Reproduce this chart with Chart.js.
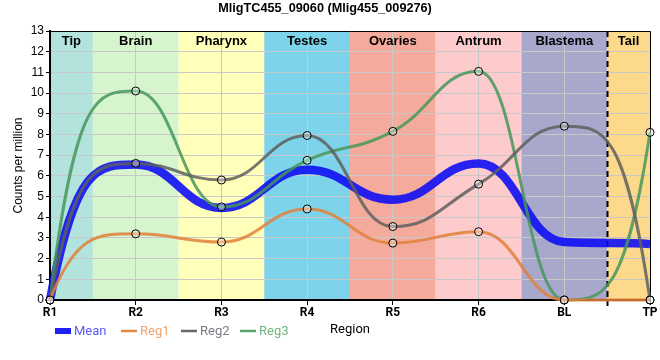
<!DOCTYPE html>
<html>
<head>
<meta charset="utf-8">
<script src="https://cdn.jsdelivr.net/npm/chart.js@4.4.1/dist/chart.umd.min.js"></script>
<style>
html,body{margin:0;padding:0;background:#fff;}
#wrap{width:660px;height:360px;position:relative;}
</style>
</head>
<body>
<div id="wrap"><canvas id="c" width="660" height="360"></canvas></div>
<script>
const categories = ['R1','R2','R3','R4','R5','R6','BL','TP'];
const meanValues = [0, 6.55, 4.45, 6.3, 4.85, 6.6, 2.8, 2.7];
const reg1Values = [0, 3.2, 2.8, 4.4, 2.75, 3.3, 0, 0];
const reg2Values = [0, 6.6, 5.8, 7.95, 3.55, 5.6, 8.4, 0];
const reg3Values = [0, 10.1, 4.5, 6.75, 8.15, 11.05, 0, 8.1];
const regionNames = ['Tip','Brain','Pharynx','Testes','Ovaries','Antrum','Blastema','Tail'];
const regionFrom = [0, 0.5, 1.5, 2.5, 3.5, 4.5, 5.5, 6.5];
const regionTo   = [0.5, 1.5, 2.5, 3.5, 4.5, 5.5, 6.5, 7];
const regionColors = ['#b3e3dd','#d6f5cf','#ffffb9','#7dd4ea','#f4ab9c','#fdcbcb','#a8a8cd','#fdd98b'];
const dividerAt = 6.5;
const yTicksMax = 13;

// Spline smoothing: control points derived from the library-computed point positions
const splinePlugin = {
  id: 'spline',
  beforeDatasetDraw(chart, args) {
    const meta = args.meta;
    const line = meta.dataset;
    const pts = meta.data;
    const sm = 1.22, d = sm + 1, e = 0.3;
    const n = pts.length;
    for (let i = 0; i < n; i++) {
      const p = pts[i], prev = pts[i - 1], next = pts[i + 1];
      let lx = p.x, ly = p.y, rx = p.x, ry = p.y;
      if (prev && next) {
        lx = (sm * p.x + prev.x) / d; ly = (sm * p.y + prev.y) / d;
        rx = (sm * p.x + next.x) / d; ry = (sm * p.y + next.y) / d;
        let corr = 0;
        if (rx !== lx) corr = ((ry - ly) * (rx - p.x)) / (rx - lx) + p.y - ry;
        ly += corr; ry += corr;
        if (ly > prev.y && ly > p.y) { ly = Math.max(prev.y, p.y); ry = 2 * p.y - ly; }
        else if (ly < prev.y && ly < p.y) { ly = Math.min(prev.y, p.y); ry = 2 * p.y - ly; }
        if (ry > next.y && ry > p.y) { ry = Math.max(next.y, p.y); ly = 2 * p.y - ry; }
        else if (ry < next.y && ry < p.y) { ry = Math.min(next.y, p.y); ly = 2 * p.y - ry; }
      } else if (next) {
        rx = p.x + e * (next.x - p.x); ry = next.y;
      } else if (prev) {
        lx = p.x - e * (p.x - prev.x); ly = prev.y;
      }
      p.cp1x = lx; p.cp1y = ly; p.cp2x = rx; p.cp2y = ry;
    }
    if (line) { line._pointsUpdated = true; delete line._path; }
  }
};

const bandsPlugin = {
  id: 'bands',
  beforeDraw(chart) {
    const {ctx, chartArea: a, scales: {x}} = chart;
    ctx.save();
    for (let i = 0; i < regionNames.length; i++) {
      const x0 = x.getPixelForValue(regionFrom[i]);
      const x1 = x.getPixelForValue(regionTo[i]);
      ctx.fillStyle = regionColors[i];
      ctx.fillRect(x0, a.top, x1 - x0, a.bottom - a.top);
    }
    ctx.restore();
  },
  beforeDatasetsDraw(chart) {
    const {ctx, chartArea: a, scales: {x}} = chart;
    ctx.save();
    ctx.font = 'bold 13px "Liberation Sans", Arial, sans-serif';
    ctx.fillStyle = '#000';
    ctx.textAlign = 'center';
    ctx.textBaseline = 'middle';
    for (let i = 0; i < regionNames.length; i++) {
      const x0 = x.getPixelForValue(regionFrom[i]);
      const x1 = x.getPixelForValue(regionTo[i]);
      ctx.fillText(regionNames[i], (x0 + x1) / 2, a.top + 10);
    }
    ctx.strokeStyle = '#000';
    ctx.lineWidth = 1;
    ctx.beginPath();
    ctx.moveTo(a.left, a.top + 0.5);
    ctx.lineTo(a.right + 0.5, a.top + 0.5);
    ctx.lineTo(a.right + 0.5, a.bottom);
    ctx.stroke();
    const xd = Math.round(x.getPixelForValue(dividerAt)) + 0.5;
    ctx.lineWidth = 2;
    ctx.setLineDash([6, 4]);
    ctx.beginPath();
    ctx.moveTo(xd, a.top);
    ctx.lineTo(xd, a.bottom + 6);
    ctx.stroke();
    ctx.restore();
  },
  afterDraw(chart) {
    const {ctx} = chart;
    const items = [
      {label: 'Mean', color: '#2020f5', text: '#5a5aff', box: true, x: 55},
      {label: 'Reg1', color: '#e08a48', text: '#eda36f', box: false, x: 121},
      {label: 'Reg2', color: '#666666', text: '#7b7b86', box: false, x: 181},
      {label: 'Reg3', color: '#5aa46a', text: '#70b47e', box: false, x: 240}
    ];
    const y = 331;
    ctx.save();
    ctx.font = '13px Roboto, sans-serif';
    ctx.textBaseline = 'middle';
    ctx.textAlign = 'left';
    items.forEach(it => {
      if (it.box) {
        ctx.fillStyle = it.color;
        ctx.fillRect(it.x, y - 3, 16, 6);
      } else {
        ctx.strokeStyle = it.color;
        ctx.lineWidth = 2.5;
        ctx.beginPath();
        ctx.moveTo(it.x, y);
        ctx.lineTo(it.x + 16, y);
        ctx.stroke();
      }
      ctx.fillStyle = it.text;
      ctx.fillText(it.label, it.x + 19, y + 0.5);
    });
    ctx.restore();
  }
};

const pointStyleCommon = {
  pointRadius: 4,
  pointHoverRadius: 4,
  pointBorderColor: '#000',
  pointBorderWidth: 1,
  pointBackgroundColor: 'rgba(255,255,255,0.35)',
  tension: 0.4,
  borderWidth: 3,
  clip: false,
  order: 0
};

new Chart(document.getElementById('c'), {
  type: 'line',
  data: {
    labels: categories,
    datasets: [
      {label: 'Mean', data: meanValues, borderColor: 'rgba(10,10,245,0.88)', borderWidth: 8.5,
       pointRadius: 0, tension: 0.4, clip: false, order: 10},
      Object.assign({label: 'Reg1', data: reg1Values, borderColor: 'rgba(224,128,58,0.85)'}, pointStyleCommon),
      Object.assign({label: 'Reg2', data: reg2Values, borderColor: 'rgba(95,95,95,0.85)'}, pointStyleCommon),
      Object.assign({label: 'Reg3', data: reg3Values, borderColor: 'rgba(70,150,90,0.85)'}, pointStyleCommon)
    ]
  },
  options: {
    responsive: false,
    animation: false,
    layout: {padding: {left: 0, right: 10, top: 0, bottom: 0}},
    plugins: {
      legend: {display: false},
      tooltip: {enabled: false},
      title: {
        display: true,
        text: 'MligTC455_09060 (Mlig455_009276)',
        color: '#000',
        font: {family: '"Liberation Sans", Arial, sans-serif', size: 12.7, weight: 'bold', lineHeight: 1.15},
        padding: {top: 1, bottom: 15.4}
      }
    },
    scales: {
      x: {
        type: 'category',
        offset: false,
        border: {display: true, color: '#000', width: 2},
        grid: {color: '#c8c8c8', lineWidth: 1, tickColor: '#000', tickLength: 5, drawTicks: true},
        ticks: {color: '#000', font: {family: 'Roboto, sans-serif', size: 12, weight: 'bold'}, padding: 1, maxRotation: 0, autoSkip: false},
        title: {display: true, text: 'Region', color: '#000', font: {family: 'Roboto, sans-serif', size: 13}, padding: {top: 0, bottom: 22}},
        afterFit(s) { s.height = 60; }
      },
      y: {
        min: 0, max: yTicksMax,
        border: {display: true, color: '#000', width: 2},
        grid: {color: '#c8c8c8', lineWidth: 1, tickColor: '#000', tickLength: 4},
        ticks: {stepSize: 1, color: '#000', font: {family: '"Liberation Sans", Arial, sans-serif', size: 12}, padding: 2},
        title: {display: true, text: 'Counts per million', color: '#000', font: {family: '"Liberation Sans", Arial, sans-serif', size: 12}, padding: {top: 11, bottom: 0}},
        afterFit(s) { s.width = 50; }
      }
    }
  },
  plugins: [splinePlugin, bandsPlugin]
});
</script>
</body>
</html>
